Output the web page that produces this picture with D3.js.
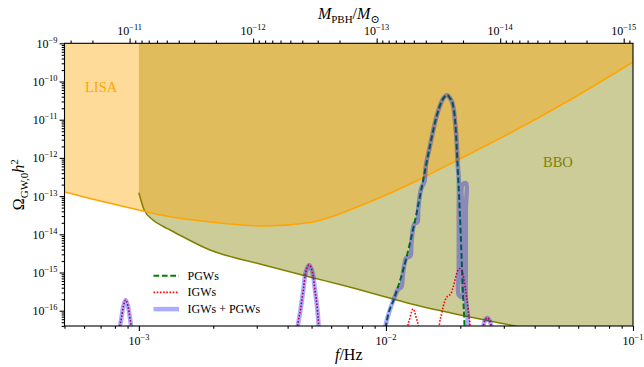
<!DOCTYPE html>
<html>
<head>
<meta charset="utf-8">
<script src="https://cdn.jsdelivr.net/npm/d3@7"></script>
<style>
  html, body { margin: 0; padding: 0; background: #fff; }
  svg { display: block; font-family: "Liberation Serif", "DejaVu Serif", serif; }
</style>
</head>
<body>
<svg id="chart" width="644" height="367"></svg>
<script>
// ---- axis limits ----
const freqDomain = [5e-4, 0.1];          // f / Hz
const omegaDomain = [3.98e-17, 1e-9];    // Omega_GW,0 h^2
const kPBH = 8.41e-18;                   // M_PBH / M_sun = kPBH / f^2

// ---- tick labels ----
const xTickValues = [1e-3, 1e-2, 1e-1];
const xTickExps = ["\u22123", "\u22122", "\u22121"];
const yTickValues = [1e-16, 1e-15, 1e-14, 1e-13, 1e-12, 1e-11, 1e-10, 1e-9];
const yTickExps = ["\u221216", "\u221215", "\u221214", "\u221213", "\u221212", "\u221211", "\u221210", "\u22129"];
const massTickValues = [1e-11, 1e-12, 1e-13, 1e-14, 1e-15];
const massTickExps = ["\u221211", "\u221212", "\u221213", "\u221214", "\u221215"];

// ---- detector sensitivity curves ----
const lisaFreq  = [5.0e-4, 7.64e-4, 1.34e-3, 2.13e-3, 3.24e-3, 4.92e-3, 8.61e-3, 1.44e-2, 1.95e-2, 3.17e-2, 5.55e-2, 1.0e-1];
const lisaOmega = [1.28e-13, 6.49e-14, 2.89e-14, 1.98e-14, 1.65e-14, 2.04e-14, 7.13e-14, 3.22e-13, 8.81e-13, 4.41e-12, 3.28e-11, 3.24e-10];

const bboFreq  = [1.0e-3, 1.051e-3, 1.14e-3, 1.26e-3, 1.336e-3, 1.94e-3, 3.09e-3, 4.92e-3, 6.51e-3, 1.37e-2, 3.48e-2, 1.0e-1];
const bboOmega = [1.23e-13, 4.33e-14, 2.37e-14, 1.58e-14, 1.30e-14, 3.88e-15, 1.67e-15, 7.62e-16, 4.85e-16, 1.33e-16, 3.74e-17, 9.0e-18];

// ---- primordial GWs ----
const pgwFreq  = [9.536e-3, 9.991e-3, 1.086e-2, 1.174e-2, 1.250e-2, 1.330e-2, 1.415e-2, 1.505e-2, 1.602e-2, 1.679e-2, 1.723e-2,
                  1.769e-2, 1.814e-2, 1.860e-2, 1.918e-2, 1.948e-2, 1.978e-2, 2.004e-2, 2.028e-2, 2.053e-2, 2.080e-2, 2.105e-2];
const pgwOmega = [1e-18, 3.81e-17, 2.32e-16, 1.16e-15, 5.81e-15, 3.55e-14, 2.64e-13, 1.96e-12, 1.20e-11, 2.96e-11, 3.93e-11,
                  4.43e-11, 3.70e-11, 2.69e-11, 5.37e-12, 7.22e-13, 9.64e-14, 1.30e-14, 1.74e-15, 2.32e-16, 3.81e-17, 1e-18];

// ---- induced GWs ----
const igwFreq  = [8.23e-4, 8.35e-4, 8.50e-4, 8.66e-4, 8.84e-4, 9.03e-4, 9.20e-4, 9.33e-4, 9.47e-4,
                  4.32e-3, 4.38e-3, 4.51e-3, 4.63e-3, 4.74e-3, 4.89e-3, 5.04e-3, 5.16e-3, 5.28e-3, 5.35e-3, 5.43e-3,
                  1.203e-2, 1.221e-2, 1.250e-2, 1.288e-2, 1.327e-2, 1.359e-2, 1.378e-2,
                  1.614e-2, 1.637e-2, 1.683e-2, 1.731e-2, 1.780e-2, 1.830e-2, 1.882e-2, 1.936e-2, 1.981e-2, 2.037e-2, 2.095e-2, 2.154e-2, 2.195e-2, 2.226e-2,
                  2.431e-2, 2.466e-2, 2.512e-2, 2.571e-2, 2.632e-2, 2.681e-2, 2.719e-2];
const igwOmega = [1e-18, 3.13e-17, 6.44e-17, 1.33e-16, 1.91e-16, 1.33e-16, 6.44e-17, 3.13e-17, 1e-18,
                  1e-18, 3.13e-17, 1.04e-16, 3.48e-16, 1.03e-15, 1.57e-15, 1.03e-15, 3.48e-16, 1.04e-16, 3.13e-17, 1e-18,
                  1e-18, 3.13e-17, 6.44e-17, 1.11e-16, 6.44e-17, 3.13e-17, 1e-18,
                  1e-18, 3.13e-17, 8.71e-17, 1.79e-16, 2.42e-16, 2.74e-16, 4.71e-16, 9.70e-16, 1.27e-15, 1.03e-15, 3.93e-16, 1.04e-16, 3.13e-17, 1e-18,
                  1e-18, 3.13e-17, 5.37e-17, 6.44e-17, 5.37e-17, 3.13e-17, 1e-18];

// ---- induced + primordial (the right flank folds back on itself in a dense band) ----
const totFreq  = [8.23e-4, 8.35e-4, 8.50e-4, 8.66e-4, 8.84e-4, 9.03e-4, 9.20e-4, 9.33e-4, 9.47e-4,
                  4.32e-3, 4.38e-3, 4.51e-3, 4.63e-3, 4.74e-3, 4.89e-3, 5.04e-3, 5.16e-3, 5.28e-3, 5.35e-3, 5.43e-3,
                  9.448e-3, 9.944e-3, 1.037e-2, 1.086e-2, 1.122e-2, 1.154e-2, 1.174e-2, 1.209e-2, 1.255e-2, 1.267e-2, 1.303e-2,
                  1.340e-2, 1.352e-2, 1.391e-2, 1.430e-2, 1.450e-2, 1.505e-2, 1.602e-2, 1.679e-2, 1.723e-2, 1.769e-2, 1.814e-2,
                  1.860e-2, 1.918e-2, 1.954e-2,
                  1.972e-2, 1.972e-2, 1.972e-2, 1.972e-2, 1.972e-2,
                  2.037e-2, 2.037e-2, 2.037e-2, 2.037e-2, 2.037e-2,
                  2.105e-2, 2.105e-2, 2.105e-2, 2.105e-2, 2.105e-2,
                  2.134e-2, 2.144e-2, 2.165e-2,
                  2.431e-2, 2.466e-2, 2.512e-2, 2.571e-2, 2.632e-2, 2.681e-2, 2.719e-2];
const totOmega = [1e-18, 3.13e-17, 6.44e-17, 1.33e-16, 1.91e-16, 1.33e-16, 6.44e-17, 3.13e-17, 1e-18,
                  1e-18, 3.13e-17, 1.04e-16, 3.48e-16, 1.03e-15, 1.57e-15, 1.03e-15, 3.48e-16, 1.04e-16, 3.13e-17, 1e-18,
                  1e-18, 3.81e-17, 1.04e-16, 2.32e-16, 3.70e-16, 4.17e-16, 1.03e-15, 2.40e-15, 2.70e-15, 5.57e-15, 1.86e-14,
                  2.10e-14, 4.88e-14, 1.63e-13, 2.34e-13, 6.14e-13, 1.96e-12, 1.20e-11, 2.96e-11, 3.93e-11, 4.43e-11, 3.70e-11,
                  2.69e-11, 5.37e-12, 6.52e-13,
                  2.64e-13, 4.33e-14, 7.10e-15, 1.16e-15, 2.58e-16,
                  2.29e-16, 1.16e-15, 7.10e-15, 4.33e-14, 1.95e-13,
                  2.20e-13, 4.33e-14, 7.10e-15, 1.16e-15, 2.15e-16,
                  9.25e-17, 3.81e-17, 1e-18,
                  1e-18, 3.13e-17, 5.37e-17, 6.44e-17, 5.37e-17, 3.13e-17, 1e-18];

// ---- layout ----
const svg = d3.select("#chart");
const plot = { left: 64.5, right: 633, top: 43.3, bottom: 326 };
const fontMain = 12, fontSup = 8.4;

const x = d3.scaleLog().domain(freqDomain).range([plot.left, plot.right]);
const y = d3.scaleLog().domain(omegaDomain).range([plot.bottom, plot.top]);
const m = d3.scaleLog()
  .domain([kPBH / freqDomain[0] ** 2, kPBH / freqDomain[1] ** 2])
  .range([plot.left, plot.right]);

svg.append("defs").append("clipPath").attr("id", "plotClip")
  .append("rect")
  .attr("x", plot.left).attr("y", plot.top)
  .attr("width", plot.right - plot.left).attr("height", plot.bottom - plot.top);

const zip = (fs, os) => fs.map((f, i) => ({ f, o: os[i] }));
const area = d3.area().x(d => x(d.f)).y0(plot.top).y1(d => y(d.o)).curve(d3.curveMonotoneX);
const smooth = d3.line().x(d => x(d.f)).y(d => y(d.o)).curve(d3.curveMonotoneX);
const loose = d3.line().x(d => x(d.f)).y(d => y(d.o)).curve(d3.curveCatmullRom.alpha(0.5));

const g = svg.append("g").attr("clip-path", "url(#plotClip)");

// sensitivity regions
g.append("path").datum(zip(bboFreq, bboOmega)).attr("d", area)
  .attr("fill", "olive").attr("fill-opacity", 0.4);
g.append("path").datum(zip(lisaFreq, lisaOmega)).attr("d", area)
  .attr("fill", "orange").attr("fill-opacity", 0.4);
g.append("path").datum(zip(bboFreq, bboOmega)).attr("d", smooth)
  .attr("fill", "none").attr("stroke", "olive").attr("stroke-width", 1.5);
g.append("path").datum(zip(lisaFreq, lisaOmega)).attr("d", smooth)
  .attr("fill", "none").attr("stroke", "orange").attr("stroke-width", 1.5);

// spectra
const styles = {
  pgw: { stroke: "green", width: 2, dash: "5.7,2.7", opacity: 1 },
  igw: { stroke: "red", width: 1.6, dash: "1.6,1.6", opacity: 1 },
  tot: { stroke: "blue", width: 4.5, dash: null, opacity: 0.33 }
};
function drawSeries(data, gen, s) {
  g.append("path").datum(data).attr("d", gen)
    .attr("fill", "none").attr("stroke", s.stroke).attr("stroke-width", s.width)
    .attr("stroke-dasharray", s.dash).attr("stroke-opacity", s.opacity)
    .attr("stroke-linejoin", "round");
}
drawSeries(zip(pgwFreq, pgwOmega), smooth, styles.pgw);
drawSeries(zip(igwFreq, igwOmega), smooth, styles.igw);
drawSeries(zip(totFreq, totOmega), loose, styles.tot);

// region labels
svg.append("text").attr("x", 85).attr("y", 91.5).attr("fill", "orange")
  .attr("font-size", 14.5).text("LISA");
svg.append("text").attr("x", 543).attr("y", 167).attr("fill", "olive")
  .attr("font-size", 14.5).text("BBO");

// ---- ticks ----
const isDecade = v => Math.abs(Math.log10(v) - Math.round(Math.log10(v))) < 1e-9;
function ticks(axisGen, scale, majors, transform) {
  const minors = scale.ticks().filter(v => !isDecade(v));
  [[majors, 4.9], [minors, 2.8]].forEach(([vals, size]) => {
    svg.append("g").attr("transform", transform)
      .call(axisGen(scale).tickValues(vals).tickSize(size).tickFormat(""))
      .call(a => a.select(".domain").remove())
      .call(a => a.selectAll("line").attr("stroke", "#000").attr("stroke-width", 1.1));
  });
}
ticks(d3.axisBottom, x, xTickValues, `translate(0,${plot.bottom})`);
ticks(d3.axisLeft, y, yTickValues, `translate(${plot.left},0)`);
ticks(d3.axisTop, m, massTickValues, `translate(0,${plot.top})`);

function powLabel(px, py, exp, anchor) {
  const t = svg.append("text").attr("x", px).attr("y", py)
    .attr("text-anchor", anchor).attr("font-size", fontMain).attr("fill", "#000");
  t.append("tspan").text("10");
  t.append("tspan").attr("dy", -5).attr("font-size", fontSup).text(exp);
}
xTickValues.forEach((v, i) => powLabel(x(v), plot.bottom + 19, xTickExps[i], "middle"));
yTickValues.forEach((v, i) => powLabel(plot.left - 7, y(v) + 4.5, yTickExps[i], "end"));
massTickValues.forEach((v, i) => powLabel(m(v), plot.top - 8, massTickExps[i], "middle"));

// frame
svg.append("rect")
  .attr("x", plot.left).attr("y", plot.top)
  .attr("width", plot.right - plot.left).attr("height", plot.bottom - plot.top)
  .attr("fill", "none").attr("stroke", "#000").attr("stroke-width", 1.1);

// ---- axis titles ----
const midX = (plot.left + plot.right) / 2, midY = (plot.top + plot.bottom) / 2;

const xt = svg.append("text").attr("x", midX).attr("y", 360).attr("text-anchor", "middle").attr("font-size", 16);
xt.append("tspan").attr("font-style", "italic").text("f");
xt.append("tspan").text("/Hz");

const tt = svg.append("text").attr("x", midX).attr("y", 19).attr("text-anchor", "middle").attr("font-size", 16);
tt.append("tspan").attr("font-style", "italic").text("M");
tt.append("tspan").attr("dy", 3.5).attr("font-size", 11).text("PBH");
tt.append("tspan").attr("dy", -3.5).text("/");
tt.append("tspan").attr("font-style", "italic").text("M");
tt.append("tspan").attr("dy", 3.5).attr("font-size", 11).text("\u2299");

const yt = svg.append("text").attr("transform", `translate(24,${midY}) rotate(-90)`)
  .attr("text-anchor", "middle").attr("font-size", 16);
yt.append("tspan").text("\u03A9");
yt.append("tspan").attr("dy", 3.5).attr("font-size", 11).text("GW,0");
yt.append("tspan").attr("dy", -3.5).attr("font-style", "italic").text("h");
yt.append("tspan").attr("dy", -6).attr("font-size", 11).text("2");

// ---- legend ----
const legendItems = [
  { label: "PGWs", style: styles.pgw },
  { label: "IGWs", style: styles.igw },
  { label: "IGWs + PGWs", style: styles.tot }
];
const legend = svg.append("g");
legendItems.forEach((item, i) => {
  const cy = 275.7 + i * 16.7;
  legend.append("line").attr("x1", 153.5).attr("x2", 179).attr("y1", cy).attr("y2", cy)
    .attr("stroke", item.style.stroke).attr("stroke-width", item.style.width)
    .attr("stroke-dasharray", item.style.dash).attr("stroke-opacity", item.style.opacity);
  legend.append("text").attr("x", 187.5).attr("y", cy + 4).attr("font-size", fontMain)
    .attr("fill", "#000").text(item.label);
});
</script>
</body>
</html>
